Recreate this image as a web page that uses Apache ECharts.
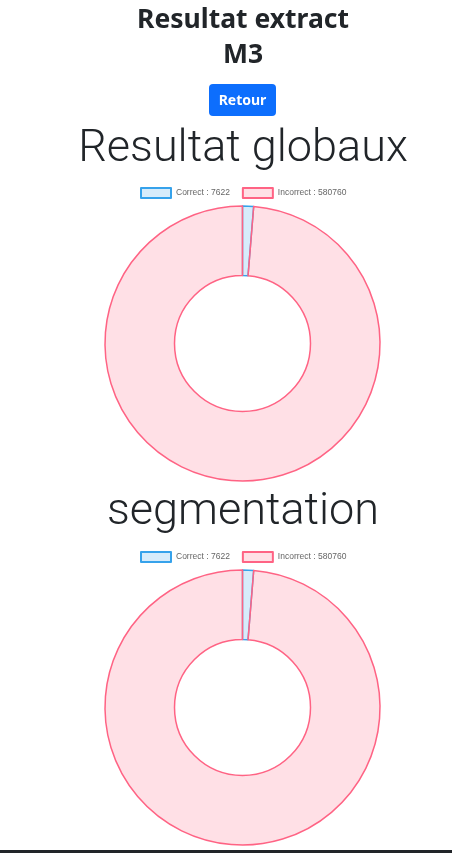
<!DOCTYPE html>
<html><head><meta charset="utf-8">
<script src="https://cdn.jsdelivr.net/npm/echarts@6/dist/echarts.min.js"></script>
<style>html,body{margin:0;padding:0;background:#fff;}#c{width:452px;height:850px;}#bar{height:3px;background:#212529;}</style>
</head><body><div id="c"></div><div id="bar"></div>
<script>
const pageTitle = ["Resultat extract", "M3"];
const buttonLabel = "Retour";
const chartTitles = ["Resultat globaux", "segmentation"];
const categories = ["Correct", "Incorrect"];
const globalValues = [7622, 580760];
const segmentationValues = [7622, 580760];

const fills = ["rgba(54,162,235,0.2)", "rgba(255,99,132,0.2)"];
const borders = ["rgb(54,162,235)", "rgb(255,99,132)"];
const cx = 243;

function pieData(vals) {
  return categories.map((c, i) => ({
    name: c + " : " + vals[i], value: vals[i],
    itemStyle: { color: fills[i], borderColor: borders[i], borderWidth: 1.5 }
  }));
}
const chart = echarts.init(document.getElementById('c'));
const centersY = [343.5, 707.5];
const titleY = [150, 513];
const legendTop = [187, 551];
const valueSets = [globalValues, segmentationValues];
function txt(t, y, font) {
  return { type: 'text', x: cx, y: y, style: { text: t, fill: '#212529', font: font, textAlign: 'center', textVerticalAlign: 'middle' } };
}
chart.setOption({
  animation: false,
  graphic: [
    txt(pageTitle[0], 20, 'bold 26.5px "Noto Sans"'),
    txt(pageTitle[1], 55, 'bold 26.5px "Noto Sans"'),
    { type: 'rect', shape: { x: 209, y: 84, width: 67, height: 32, r: 4 }, style: { fill: '#0d6efd' } },
    { type: 'text', x: 242.5, y: 101, style: { text: buttonLabel, fill: '#fff', font: 'bold 14px "Noto Sans"', textAlign: 'center', textVerticalAlign: 'middle' } },
    txt(chartTitles[0], titleY[0], '300 45px Roboto'),
    txt(chartTitles[1], titleY[1], '300 45px Roboto')
  ],
  legend: [0, 1].map(i => ({
    top: legendTop[i], left: 140, icon: 'rect', itemWidth: 30, itemHeight: 10, itemGap: 12, padding: 0,
    textStyle: { fontFamily: 'Liberation Sans', fontSize: 8.5, color: '#666' },
    data: categories.map((c, k) => c + " : " + valueSets[i][k])
  })),
  series: [0, 1].map(i => ({
    type: 'pie', radius: [68, 137.5], center: [242.5, centersY[i]], startAngle: 90, clockwise: true,
    label: { show: false }, labelLine: { show: false }, emphasis: { scale: false },
    data: pieData(valueSets[i])
  }))
});
</script></body></html>
